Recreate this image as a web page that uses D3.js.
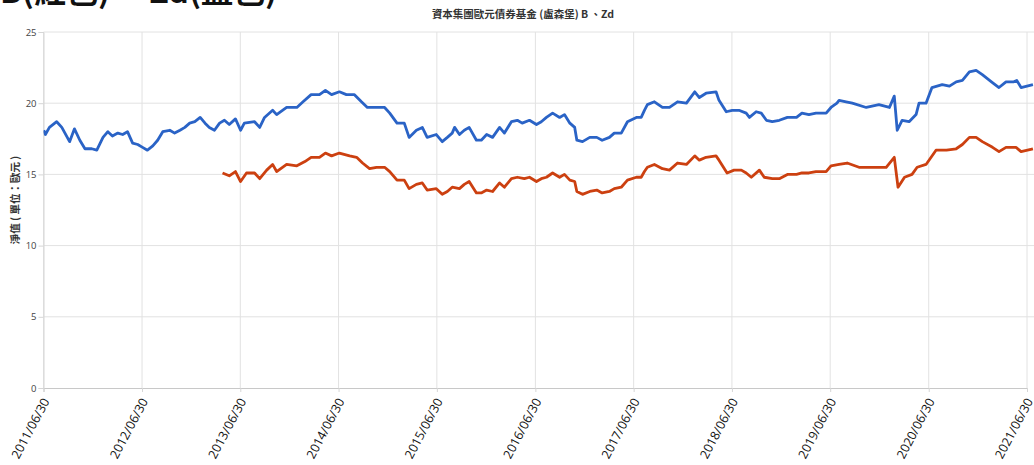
<!DOCTYPE html>
<html>
<head>
<meta charset="utf-8">
<script src="https://cdn.jsdelivr.net/npm/d3@7"></script>
<style>
  body { margin: 0; background: #fff; }
  svg { display: block; }
</style>
</head>
<body>
<svg id="chart" width="1034" height="465"></svg>
<script>
// ---- data ----
var chartTitle = "資本集團歐元債券基金 (盧森堡) B 、Zd";
var topNote = "B(紅色) 、Zd(藍色)";
var yLabel = "淨值 ( 單位：歐元 )";

var xTickDates = ["2011-06-30", "2012-06-30", "2013-06-30", "2014-06-30", "2015-06-30",
    "2016-06-30", "2017-06-30", "2018-06-30", "2019-06-30", "2020-06-30", "2021-06-30"];
var yTicks = [0, 5, 10, 15, 20, 25];

// class B (blue)
var bDates = ["2011-07-01", "2011-07-07", "2011-07-22", "2011-08-18", "2011-09-06", "2011-10-05", "2011-10-23",
    "2011-11-12", "2011-12-01", "2011-12-26", "2012-01-14", "2012-02-06", "2012-02-24", "2012-03-12",
    "2012-04-01", "2012-04-19", "2012-05-07", "2012-05-26", "2012-06-14", "2012-07-02", "2012-07-20",
    "2012-08-09", "2012-08-27", "2012-09-15", "2012-10-11", "2012-10-29", "2012-11-18", "2012-12-06",
    "2012-12-24", "2013-01-12", "2013-02-01", "2013-02-19", "2013-03-07", "2013-03-26", "2013-04-14",
    "2013-05-02", "2013-05-20", "2013-06-12", "2013-07-01", "2013-07-15", "2013-08-22", "2013-09-10",
    "2013-09-28", "2013-10-28", "2013-11-12", "2013-12-19", "2014-01-26", "2014-02-18", "2014-03-20",
    "2014-04-20", "2014-05-12", "2014-06-04", "2014-07-03", "2014-07-29", "2014-08-28", "2014-09-23",
    "2014-10-15", "2014-11-18", "2014-12-18", "2015-01-06", "2015-02-02", "2015-03-01", "2015-03-19",
    "2015-04-15", "2015-05-07", "2015-05-25", "2015-06-28", "2015-07-20", "2015-08-08", "2015-08-26",
    "2015-09-04", "2015-09-22", "2015-10-10", "2015-10-28", "2015-11-24", "2015-12-12", "2016-01-01",
    "2016-01-23", "2016-02-18", "2016-03-07", "2016-04-02", "2016-04-24", "2016-05-12", "2016-06-08",
    "2016-07-04", "2016-07-22", "2016-08-10", "2016-09-02", "2016-09-28", "2016-10-16", "2016-11-05",
    "2016-11-23", "2016-12-01", "2016-12-22", "2017-01-18", "2017-02-13", "2017-03-05", "2017-04-01",
    "2017-04-19", "2017-05-15", "2017-06-07", "2017-07-10", "2017-07-28", "2017-08-09", "2017-08-20",
    "2017-09-15", "2017-10-15", "2017-11-10", "2017-12-10", "2018-01-12", "2018-02-12", "2018-03-01",
    "2018-03-26", "2018-05-02", "2018-05-13", "2018-06-09", "2018-07-01", "2018-07-26", "2018-08-22",
    "2018-09-03", "2018-09-28", "2018-10-17", "2018-11-05", "2018-11-27", "2018-12-23", "2019-01-22",
    "2019-02-25", "2019-03-17", "2019-04-12", "2019-05-08", "2019-06-15", "2019-07-03", "2019-07-25",
    "2019-08-02", "2019-08-28", "2019-09-20", "2019-11-11", "2019-12-28", "2020-02-05", "2020-02-23",
    "2020-03-05", "2020-03-23", "2020-04-18", "2020-05-14", "2020-05-25", "2020-06-20", "2020-07-12",
    "2020-08-19", "2020-09-15", "2020-10-10", "2020-11-02", "2020-11-28", "2020-12-23", "2021-01-15",
    "2021-02-18", "2021-03-18", "2021-04-13", "2021-05-12", "2021-05-23", "2021-06-08", "2021-07-22"];
var bValues = [18.1, 17.8, 18.3, 18.7, 18.3, 17.3, 18.2,
    17.4, 16.8, 16.8, 16.7, 17.6, 18.0, 17.7,
    17.9, 17.8, 18.0, 17.2, 17.1, 16.9, 16.7,
    17.0, 17.4, 18.0, 18.1, 17.9, 18.1, 18.3,
    18.6, 18.7, 19.0, 18.6, 18.3, 18.1, 18.6,
    18.8, 18.5, 18.9, 18.1, 18.6, 18.7, 18.3,
    19.0, 19.5, 19.2, 19.7, 19.7, 20.1, 20.6,
    20.6, 20.9, 20.6, 20.8, 20.6, 20.6, 20.1,
    19.7, 19.7, 19.7, 19.3, 18.6, 18.6, 17.6,
    18.1, 18.3, 17.6, 17.8, 17.3, 17.6, 17.9,
    18.3, 17.8, 18.1, 18.3, 17.4, 17.4, 17.8,
    17.6, 18.3, 17.9, 18.7, 18.8, 18.6, 18.8,
    18.5, 18.7, 19.0, 19.3, 19.0, 19.2, 18.6,
    18.3, 17.4, 17.3, 17.6, 17.6, 17.4, 17.6,
    17.9, 17.9, 18.7, 19.0, 19.0, 19.5, 19.9,
    20.1, 19.7, 19.7, 20.1, 20.0, 20.8, 20.4,
    20.7, 20.8, 20.2, 19.4, 19.5, 19.5, 19.3,
    19.0, 19.4, 19.3, 18.8, 18.7, 18.8, 19.0,
    19.0, 19.3, 19.2, 19.3, 19.3, 19.7, 20.0,
    20.2, 20.1, 20.0, 19.7, 19.9, 19.7, 20.5,
    18.1, 18.8, 18.7, 19.2, 20.0, 20.0, 21.1,
    21.3, 21.2, 21.5, 21.6, 22.2, 22.3, 22.0,
    21.5, 21.1, 21.5, 21.5, 21.6, 21.1, 21.3];

// class Zd (red)
var zdDates = ["2013-04-25", "2013-05-20", "2013-06-12", "2013-07-01", "2013-07-23", "2013-08-22", "2013-09-10",
    "2013-10-06", "2013-10-28", "2013-11-12", "2013-12-19", "2014-01-26", "2014-02-25", "2014-03-20",
    "2014-04-20", "2014-05-12", "2014-06-04", "2014-07-03", "2014-08-10", "2014-09-05", "2014-09-27",
    "2014-10-23", "2014-11-18", "2014-12-18", "2015-01-06", "2015-02-02", "2015-03-01", "2015-03-19",
    "2015-04-15", "2015-05-07", "2015-05-25", "2015-06-28", "2015-07-20", "2015-08-08", "2015-08-26",
    "2015-09-22", "2015-10-10", "2015-10-28", "2015-11-24", "2015-12-12", "2016-01-01", "2016-01-23",
    "2016-02-18", "2016-03-07", "2016-04-02", "2016-04-24", "2016-05-20", "2016-06-08", "2016-07-04",
    "2016-07-22", "2016-08-10", "2016-09-02", "2016-09-28", "2016-10-16", "2016-11-05", "2016-11-23",
    "2016-12-01", "2016-12-22", "2017-01-18", "2017-02-13", "2017-03-05", "2017-04-01", "2017-04-19",
    "2017-05-15", "2017-06-07", "2017-07-10", "2017-07-28", "2017-08-09", "2017-08-20", "2017-09-15",
    "2017-10-15", "2017-11-10", "2017-12-10", "2018-01-12", "2018-02-12", "2018-03-01", "2018-03-26",
    "2018-05-02", "2018-05-13", "2018-06-12", "2018-07-08", "2018-08-04", "2018-08-22", "2018-09-10",
    "2018-10-10", "2018-10-28", "2018-11-27", "2018-12-23", "2019-01-22", "2019-02-25", "2019-03-17",
    "2019-04-12", "2019-05-08", "2019-06-15", "2019-07-03", "2019-08-02", "2019-09-01", "2019-10-15",
    "2019-12-03", "2020-01-24", "2020-02-23", "2020-03-08", "2020-04-01", "2020-04-29", "2020-05-18",
    "2020-06-20", "2020-07-27", "2020-09-04", "2020-10-10", "2020-11-02", "2020-11-28", "2020-12-23",
    "2021-01-15", "2021-02-22", "2021-03-18", "2021-04-13", "2021-05-20", "2021-06-08", "2021-07-22"];
var zdValues = [15.1, 14.9, 15.2, 14.5, 15.1, 15.1, 14.7,
    15.3, 15.7, 15.2, 15.7, 15.6, 15.9, 16.2,
    16.2, 16.5, 16.3, 16.5, 16.3, 16.2, 15.8,
    15.4, 15.5, 15.5, 15.2, 14.6, 14.6, 14.0,
    14.3, 14.4, 13.9, 14.0, 13.6, 13.8, 14.1,
    14.0, 14.3, 14.5, 13.7, 13.7, 13.9, 13.8,
    14.4, 14.1, 14.7, 14.8, 14.7, 14.8, 14.5,
    14.7, 14.8, 15.1, 14.8, 15.0, 14.6, 14.5,
    13.8, 13.6, 13.8, 13.9, 13.7, 13.8, 14.0,
    14.1, 14.6, 14.8, 14.8, 15.2, 15.5, 15.7,
    15.4, 15.3, 15.8, 15.7, 16.3, 16.0, 16.2,
    16.3, 16.0, 15.1, 15.3, 15.3, 15.1, 14.8,
    15.3, 14.8, 14.7, 14.7, 15.0, 15.0, 15.1,
    15.1, 15.2, 15.2, 15.6, 15.7, 15.8, 15.5,
    15.5, 15.5, 16.2, 14.1, 14.8, 15.0, 15.5,
    15.7, 16.7, 16.7, 16.8, 17.1, 17.6, 17.6,
    17.3, 16.9, 16.6, 16.9, 16.9, 16.6, 16.8];

// ---- layout ----
var W = 1034, H = 465;
var m = { left: 43.5, top: 32, bottom: 388 };
var parse = d3.timeParse("%Y-%m-%d");
var fmt = d3.timeFormat("%Y/%m/%d");

var svg = d3.select("#chart");

var x = d3.scaleTime()
    .domain([parse(xTickDates[0]), parse(xTickDates[xTickDates.length - 1])])
    .range([m.left, 1027]);
var y = d3.scaleLinear().domain([0, 25]).range([m.bottom, m.top]);

svg.append("defs").append("clipPath").attr("id", "plotclip")
    .append("rect").attr("x", m.left).attr("y", 0).attr("width", W - m.left).attr("height", m.bottom);

// horizontal grid
svg.append("g")
    .selectAll("line").data(yTicks.filter(function(d) { return d > 0; }))
    .enter().append("line")
    .attr("x1", m.left).attr("x2", W)
    .attr("y1", function(d) { return y(d); }).attr("y2", function(d) { return y(d); })
    .attr("stroke", "#e2e2e2").attr("stroke-width", 1);

// vertical grid
svg.append("g")
    .selectAll("line").data(xTickDates)
    .enter().append("line")
    .attr("x1", function(d) { return x(parse(d)); }).attr("x2", function(d) { return x(parse(d)); })
    .attr("y1", m.top).attr("y2", m.bottom)
    .attr("stroke", "#e2e2e2").attr("stroke-width", 1);

// y axis ticks
var yAxis = svg.append("g")
    .attr("transform", "translate(" + m.left + ",0)")
    .call(d3.axisLeft(y).tickValues(yTicks).tickSize(5).tickPadding(2));
yAxis.select(".domain").attr("stroke", "#d6d6d6");
yAxis.selectAll(".tick line").attr("stroke", "#d6d6d6");
yAxis.selectAll("text")
    .attr("fill", "#444").style("font-family", "Open Sans, sans-serif").style("font-size", "9.5px");

// x axis
var xAxis = svg.append("g")
    .attr("transform", "translate(0," + m.bottom + ")")
    .call(d3.axisBottom(x).tickValues(xTickDates.map(parse)).tickFormat(fmt).tickSize(4));
xAxis.select(".domain").attr("stroke", "#c8c8c8");
xAxis.selectAll(".tick line").attr("stroke", "#d6d6d6");
xAxis.selectAll("text")
    .attr("fill", "#111")
    .style("font-family", "Open Sans, sans-serif").style("font-size", "12.5px")
    .attr("text-anchor", "end")
    .attr("transform", "translate(2,11) rotate(-62)")
    .attr("dx", 0).attr("dy", "0.35em").attr("y", 0);

// lines
var line = d3.line()
    .x(function(d) { return x(d.date); })
    .y(function(d) { return y(d.value); });

function series(dates, values) {
    return dates.map(function(d, i) { return { date: parse(d), value: values[i] }; });
}

var plot = svg.append("g").attr("clip-path", "url(#plotclip)");
plot.append("path")
    .datum(series(zdDates, zdValues))
    .attr("fill", "none").attr("stroke", "#cc4010").attr("stroke-width", 2.8)
    .attr("stroke-linejoin", "round").attr("d", line);
plot.append("path")
    .datum(series(bDates, bValues))
    .attr("fill", "none").attr("stroke", "#2a63c6").attr("stroke-width", 2.8)
    .attr("stroke-linejoin", "round").attr("d", line);

// title
svg.append("text")
    .attr("x", 523).attr("y", 18)
    .attr("text-anchor", "middle")
    .style("font-family", "Noto Sans CJK TC, sans-serif").style("font-size", "10.5px").style("font-weight", "bold")
    .attr("fill", "#333")
    .text(chartTitle);

// cropped note at very top
svg.append("text")
    .attr("x", 0).attr("y", 3)
    .style("font-family", "Noto Sans CJK TC, serif").style("font-size", "32px").style("font-weight", "bold")
    .attr("fill", "#111")
    .text(topNote);

// y label
svg.append("text")
    .attr("transform", "translate(19," + 200 + ") rotate(-90)")
    .attr("text-anchor", "middle")
    .style("font-family", "Noto Sans CJK TC, sans-serif").style("font-size", "10.5px").style("font-weight", "bold")
    .attr("fill", "#333")
    .text(yLabel);
</script>
</body>
</html>
